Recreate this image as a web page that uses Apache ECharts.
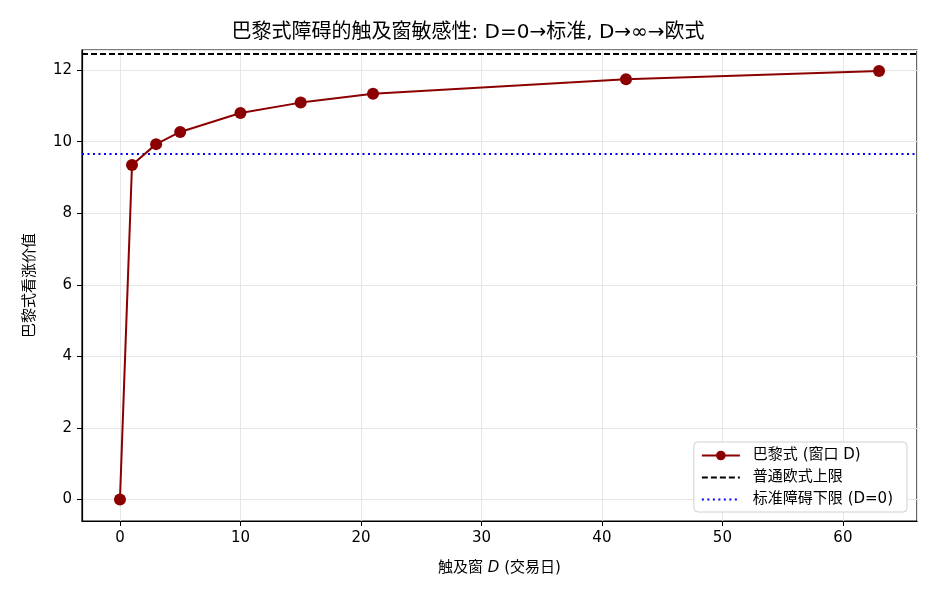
<!DOCTYPE html>
<html>
<head>
<meta charset="utf-8">
<script src="https://cdn.jsdelivr.net/npm/echarts@6/dist/echarts.min.js"></script>
<style>
  html, body { margin: 0; padding: 0; background: #fff; }
  #chart { width: 936px; height: 598px; }
</style>
</head>
<body>
<div id="chart"></div>
<script>
// 触及窗 D（交易日）
var windowDays = [0, 1, 3, 5, 10, 15, 21, 42, 63];
// 巴黎式看涨价值
var parisValues = [0, 9.35, 9.93, 10.27, 10.80, 11.09, 11.34, 11.74, 11.97];
var europeanUpper = 12.45;   // 普通欧式上限
var barrierLower = 9.67;     // 标准障碍下限 (D=0)
var xRange = [-3.15, 66.15];
var yRange = [-0.6, 12.56];

var font = '"DejaVu Sans", "Noto Sans CJK JP", sans-serif';
var myChart = echarts.init(document.getElementById('chart'));

var option = {
  animation: false,
  textStyle: { fontFamily: font },
  title: {
    text: '巴黎式障碍的触及窗敏感性: D=0→标准, D→∞→欧式',
    left: 'center',
    top: 18,
    textStyle: { fontFamily: font, fontSize: 20, fontWeight: 'normal', color: '#000' }
  },
  grid: {
    left: 82, right: 19, top: 50, bottom: 77,
    show: true, borderColor: '#000', borderWidth: 1.2
  },
  legend: {
    orient: 'vertical',
    right: 29, bottom: 86,
    padding: [6, 14, 5, 7],
    itemGap: 7,
    itemWidth: 38, itemHeight: 12,
    backgroundColor: '#fff',
    borderColor: '#d0d0d0', borderWidth: 1, borderRadius: 4,
    textStyle: { fontFamily: font, fontSize: 15, color: '#000', padding: [0, 0, 0, 8] },
    data: [
      { name: '巴黎式 (窗口 D)' },
      { name: '普通欧式上限', itemStyle: { opacity: 0 } },
      { name: '标准障碍下限 (D=0)', itemStyle: { opacity: 0 } }
    ]
  },
  xAxis: {
    type: 'value',
    min: xRange[0], max: xRange[1],
    splitNumber: 7,
    name: '触及窗 {i|D} (交易日)',
    nameLocation: 'middle',
    nameGap: 40,
    nameTextStyle: {
      fontFamily: font, fontSize: 15, color: '#000',
      rich: { i: { fontFamily: font, fontSize: 15, fontStyle: 'italic', color: '#000' } }
    },
    axisLine: { show: true, onZero: false, lineStyle: { color: '#000', width: 1.2 } },
    axisTick: { show: true, interval: 0, length: 5, lineStyle: { color: '#000' } },
    axisLabel: { showMinLabel: false, showMaxLabel: false, fontFamily: font, fontSize: 15, color: '#000', margin: 10 },
    splitLine: { show: true, lineStyle: { color: '#e6e6e6', width: 1 } }
  },
  yAxis: {
    type: 'value',
    min: yRange[0], max: yRange[1],
    splitNumber: 7,
    name: '巴黎式看涨价值',
    nameLocation: 'middle',
    nameGap: 44,
    nameTextStyle: { fontFamily: font, fontSize: 15, color: '#000' },
    axisLine: { show: true, onZero: false, lineStyle: { color: '#000', width: 1.2 } },
    axisTick: { show: true, interval: 0, length: 5, lineStyle: { color: '#000' } },
    axisLabel: { showMinLabel: false, showMaxLabel: false, fontFamily: font, fontSize: 15, color: '#000', margin: 10 },
    splitLine: { show: true, lineStyle: { color: '#e6e6e6', width: 1 } }
  },
  series: [
    {
      name: '巴黎式 (窗口 D)',
      type: 'line',
      data: windowDays.map(function (d, i) { return [d, parisValues[i]]; }),
      symbol: 'circle',
      symbolSize: 12,
      color: '#8b0000',
      lineStyle: { width: 2, color: '#8b0000' },
      itemStyle: { color: '#8b0000' },
      z: 5
    },
    {
      name: '普通欧式上限',
      type: 'line',
      data: [],
      symbol: 'none',
      color: '#000',
      lineStyle: { type: [6, 3], width: 2, color: '#000' },
      markLine: {
        silent: true, symbol: 'none', label: { show: false },
        lineStyle: { type: [6, 3], width: 2, color: '#000' },
        data: [{ yAxis: europeanUpper }]
      }
    },
    {
      name: '标准障碍下限 (D=0)',
      type: 'line',
      data: [],
      symbol: 'none',
      color: '#0000ff',
      lineStyle: { type: [2, 3.5], width: 2, color: '#0000ff' },
      markLine: {
        silent: true, symbol: 'none', label: { show: false },
        lineStyle: { type: [2, 3.5], width: 2, color: '#0000ff' },
        data: [{ yAxis: barrierLower }]
      }
    }
  ]
};

myChart.setOption(option);
</script>
</body>
</html>
